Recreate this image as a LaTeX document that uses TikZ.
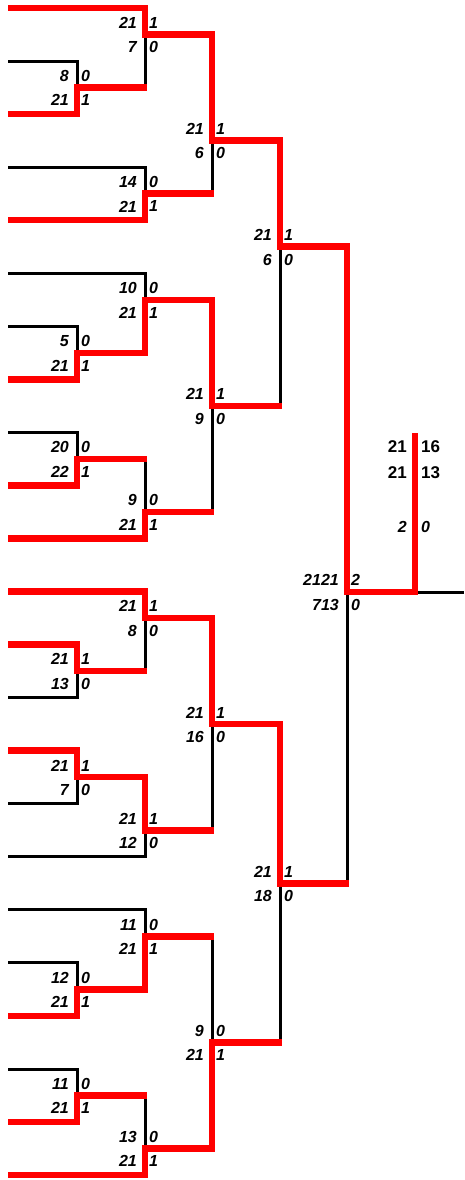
\documentclass[tikz,border=0pt]{standalone}
\usepackage{fontspec}
\setmainfont{Liberation Sans}
\usetikzlibrary{positioning, calc}

\begin{document}
\begin{tikzpicture}[
    x=1pt, y=-1pt,
    win/.style={draw=red, line width=6.5pt},
    winout/.style={win, shorten >=-1.5pt},
    lose/.style={draw=black, line width=3pt},
    score/.style={inner sep=0pt, font=\fontsize{16}{16}\selectfont\bfseries\itshape},
    total/.style={inner sep=0pt, font=\fontsize{17}{17}\selectfont\bfseries}
]
\useasboundingbox (0,0) rectangle (464,1180);

% --- Entries ---
\foreach \k in {0,...,22}
    \coordinate (L\k) at (8, 8+53.05*\k);

% --- Matches ---
% round 1
\coordinate (J1a) at (77, 87.6);
\coordinate (J1b) at (77, 352.8);
\coordinate (J1c) at (77, 458.9);
\coordinate (J1d) at (77, 671.1);
\coordinate (J1e) at (77, 777.2);
\coordinate (J1f) at (77, 989.4);
\coordinate (J1g) at (77, 1095.5);
% round 2
\coordinate (J2a) at (145, 34.5);
\coordinate (J2b) at (145, 193.7);
\coordinate (J2c) at (145, 299.8);
\coordinate (J2d) at (145, 512);
\coordinate (J2e) at (145, 618.1);
\coordinate (J2f) at (145, 830.3);
\coordinate (J2g) at (145, 936.4);
\coordinate (J2h) at (145, 1148.6);
% round 3
\coordinate (J3a) at (212, 140.6);
\coordinate (J3b) at (212, 405.9);
\coordinate (J3c) at (212, 724.2);
\coordinate (J3d) at (212, 1042.5);
% round 4
\coordinate (J4a) at (280, 246.7);
\coordinate (J4b) at (280, 883.3);
% round 5 and final
\coordinate (J5) at (347, 592);
\coordinate (F) at (415, 433);
\coordinate (Fend) at (464, 592);

% --- Bracket ---
\foreach \c/\p in {L1/J1a, L2/J1a, L6/J1b, L7/J1b, L8/J1c, L9/J1c,
                   L12/J1d, L13/J1d, L14/J1e, L15/J1e, L18/J1f, L19/J1f,
                   L20/J1g, L21/J1g,
                   L0/J2a, J1a/J2a, L3/J2b, L4/J2b, L5/J2c, J1b/J2c,
                   J1c/J2d, L10/J2d, L11/J2e, J1d/J2e, J1e/J2f, L16/J2f,
                   L17/J2g, J1f/J2g, J1g/J2h, L22/J2h,
                   J2a/J3a, J2b/J3a, J2c/J3b, J2d/J3b,
                   J2e/J3c, J2f/J3c, J2g/J3d, J2h/J3d,
                   J3a/J4a, J3b/J4a, J3c/J4b, J3d/J4b,
                   J4a/J5, J4b/J5}
    \draw[lose] (\c) -| (\p);
\draw[lose] (J5 -| F) -- (Fend);

% --- Winners ---
\draw[win] (L0) -| (J2a) -| (J3a) -| (J4a) -| (J5) -| (F);
\draw[winout] (L2) -| (J1a) -- (J1a -| J2a);
\draw[winout] (L4) -| (J2b) -- (J2b -| J3a);
\draw[winout] (L7) -| (J1b) -| (J2c) -| (J3b) -- (J3b -| J4a);
\draw[winout] (L9) -| (J1c) -- (J1c -| J2d);
\draw[winout] (L10) -| (J2d) -- (J2d -| J3b);
\draw[winout] (L11) -| (J2e) -| (J3c) -| (J4b) -- (J4b -| J5);
\draw[winout] (L12) -| (J1d) -- (J1d -| J2e);
\draw[winout] (L14) -| (J1e) -| (J2f) -- (J2f -| J3c);
\draw[winout] (L19) -| (J1f) -| (J2g) -- (J2g -| J3d);
\draw[winout] (L21) -| (J1g) -- (J1g -| J2h);
\draw[winout] (L22) -| (J2h) -| (J3d) -- (J3d -| J4b);

% --- Scores ---
\foreach \j/\a/\b/\c/\d in {J1a/8/0/21/1, J1b/5/0/21/1, J1c/20/0/22/1,
                            J1d/21/1/13/0, J1e/21/1/7/0, J1f/12/0/21/1,
                            J1g/11/0/21/1,
                            J2a/21/1/7/0, J2b/14/0/21/1, J2c/10/0/21/1,
                            J2d/9/0/21/1, J2e/21/1/8/0, J2f/21/1/12/0,
                            J2g/11/0/21/1, J2h/13/0/21/1,
                            J3a/21/1/6/0, J3b/21/1/9/0, J3c/21/1/16/0,
                            J3d/9/0/21/1,
                            J4a/21/1/6/0, J4b/21/1/18/0,
                            J5/2121/2/713/0} {
    \node[score, above left=6pt and 8pt of \j] (\j-ul) {\a};
    \node[score, above right=6pt and 4pt of \j] (\j-ur) {\b};
    \node[score, below left=7pt and 8pt of \j] (\j-ll) {\c};
    \node[score, below right=7pt and 4pt of \j] (\j-lr) {\d};
}

% final
\node[total, anchor=east] (f1l) at ($(F)+(-8,14)$) {21};
\node[total, anchor=west] (f1r) at ($(F)+(6,14)$) {16};
\node[total, anchor=east] (f2l) at ($(F)+(-8,40)$) {21};
\node[total, anchor=west] (f2r) at ($(F)+(6,40)$) {13};
\node[score, anchor=east] (f3l) at ($(F)+(-8,94)$) {2};
\node[score, anchor=west] (f3r) at ($(F)+(6,94)$) {0};

\end{tikzpicture}
\end{document}
